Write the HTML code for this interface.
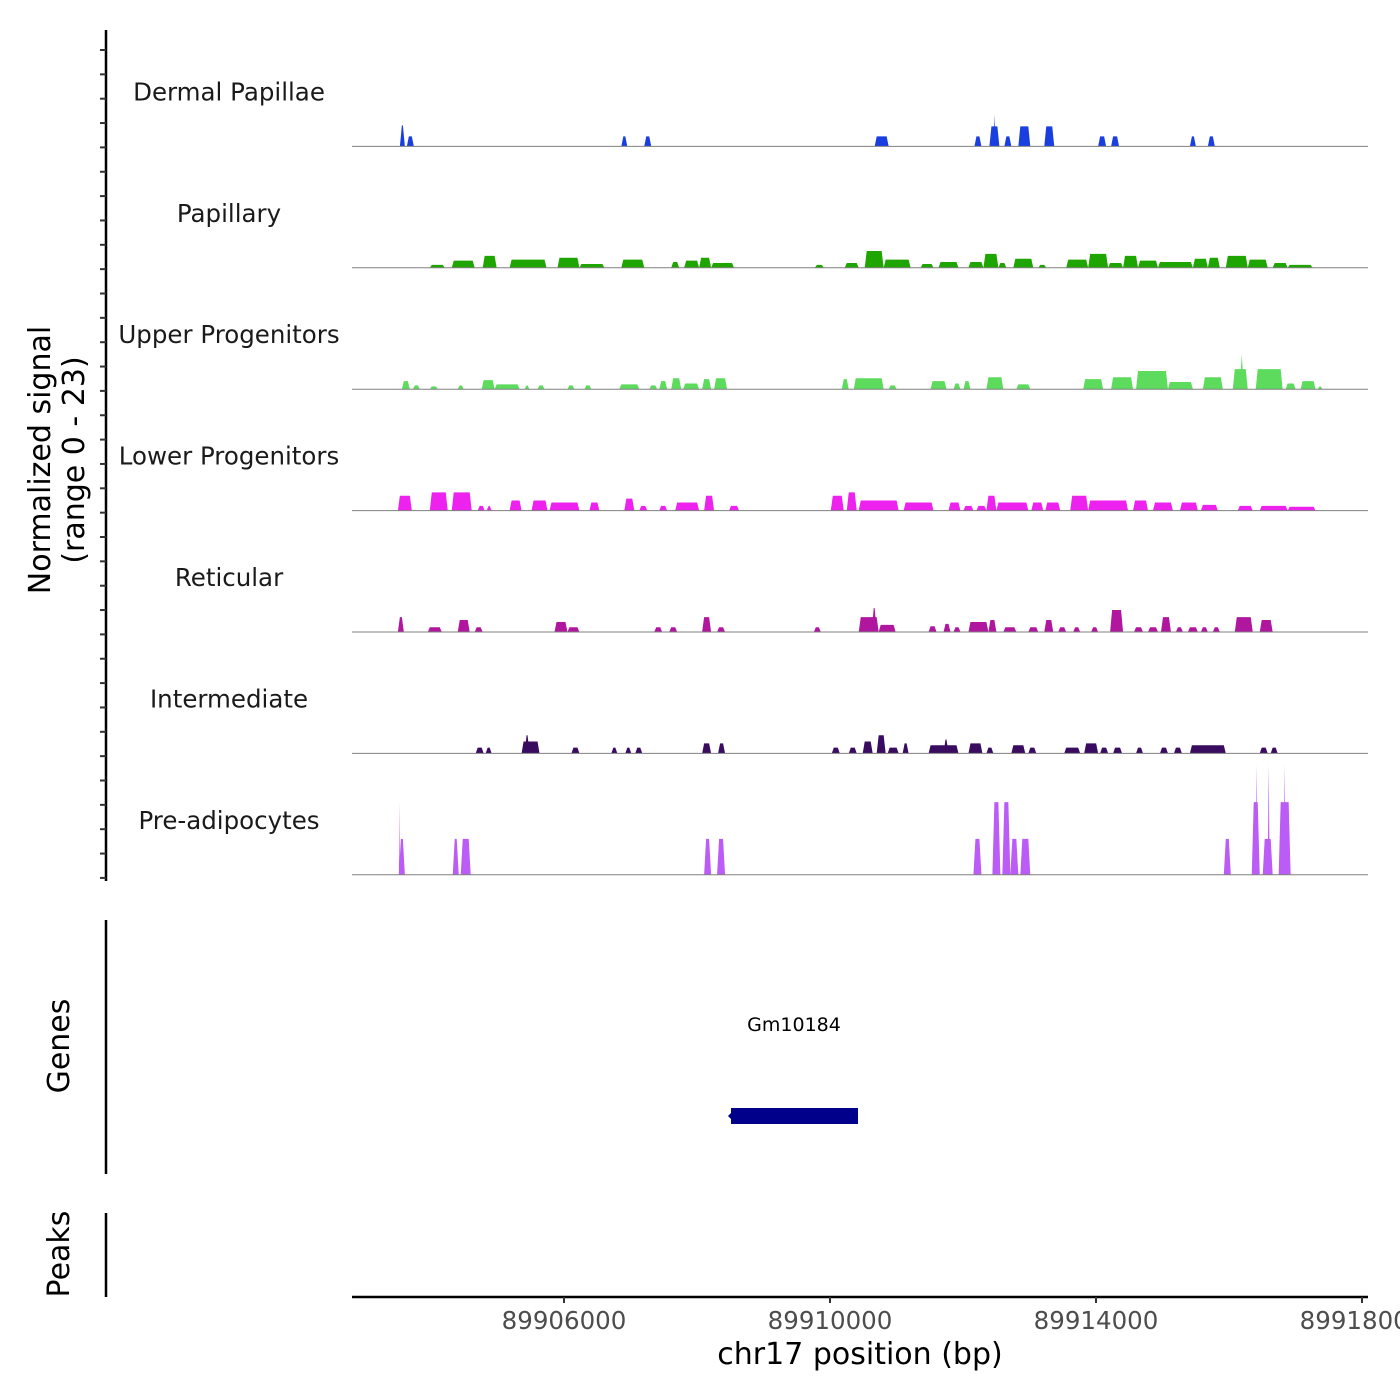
<!DOCTYPE html>
<html><head><meta charset="utf-8"><style>
html,body{margin:0;padding:0;background:#fff;}
svg{display:block;font-family:"DejaVu Sans","Liberation Sans",sans-serif;}
</style></head><body>
<svg id="chart" width="1400" height="1400" viewBox="0 0 1400 1400">
<g id="left-axes"></g>
<g id="tracks"></g>
<g id="genes">
  <text x="794" y="1031" font-size="19" text-anchor="middle" fill="#000">Gm10184</text>
  <rect x="731" y="1108" width="127" height="16" fill="#00008B"/>
  <polygon points="728,1116 733,1111 733,1121" fill="#00008B"/>
</g>
<g id="xaxis"></g>
<text x="54" y="460" font-size="30" text-anchor="middle" transform="rotate(-90 54 460)" fill="#000"><tspan x="54" dy="-4">Normalized signal</tspan><tspan x="54" dy="34">(range 0 - 23)</tspan></text>
<text x="69" y="1046" font-size="30" text-anchor="middle" transform="rotate(-90 69 1046)" fill="#000">Genes</text>
<text x="69" y="1254" font-size="30" text-anchor="middle" transform="rotate(-90 69 1254)" fill="#000">Peaks</text>
<text x="860" y="1364" font-size="30" text-anchor="middle" fill="#000">chr17 position (bp)</text>
</svg>
<script>
const regionStart = 89902812;
const trackNames = ["Dermal Papillae","Papillary","Upper Progenitors","Lower Progenitors","Reticular","Intermediate","Pre-adipocytes"];
const trackColors = ["#1a3fe0","#1fa500","#5cdb5c","#ee22ee","#b0179e","#3a0c60","#bb5cf6"];
const xTicks = [89906000, 89910000, 89914000, 89918000];
const xTickLabels = ["89906000","89910000","89914000","89918000"];
// segments: [startOffsetBp, endOffsetBp, signal]
const dermal = [[720,795,4.4],[825,930,2.1],[4050,4140,2.1],[4395,4500,2.1],[7860,8070,2.1],[9360,9465,2.1],[9585,9735,4.2],[9645,9675,6.7],[9810,9915,2.1],[10020,10200,4.2],[10410,10560,4.2],[11220,11340,2.1],[11415,11535,2.1],[12600,12690,2.1],[12870,12975,2.1]];
const papillary = [[1170,1395,0.6],[1500,1845,1.5],[1965,2175,2.5],[2370,2925,1.7],[3090,3420,2.1],[3420,3795,0.8],[4050,4395,1.7],[4800,4920,1.2],[4995,5220,1.5],[5220,5400,2.1],[5400,5745,1.0],[6960,7095,0.6],[7410,7620,1.0],[7710,7995,3.5],[7995,8400,1.7],[8550,8745,0.8],[8820,9120,1.2],[9270,9495,1.2],[9495,9720,2.9],[9720,9840,1.0],[9945,10245,1.9],[10320,10440,0.6],[10740,11070,1.7],[11070,11370,2.9],[11370,11595,1.0],[11595,11820,2.5],[11820,12120,1.5],[12120,12645,1.2],[12645,12870,1.9],[12870,13050,2.1],[13140,13470,2.5],[13470,13770,1.7],[13845,14070,1.0],[14070,14445,0.6]];
const upper = [[750,870,1.7],[915,1020,0.8],[1170,1290,0.6],[1590,1680,0.8],[1950,2145,1.9],[2145,2520,1.0],[2595,2670,0.8],[2790,2895,0.8],[3240,3345,0.8],[3495,3600,0.8],[4020,4320,1.0],[4470,4590,0.8],[4620,4740,1.7],[4800,4950,2.3],[4980,5220,1.2],[5265,5400,2.1],[5445,5640,2.3],[7365,7470,2.1],[7545,7995,2.3],[8070,8190,0.8],[8700,8940,1.7],[9045,9150,1.2],[9195,9300,1.7],[9540,9795,2.5],[9990,10200,1.0],[10995,11295,2.1],[11415,11745,2.5],[11790,12270,3.8],[12270,12645,1.5],[12795,13095,2.5],[13245,13470,4.2],[13350,13410,7.3],[13590,13995,4.2],[14040,14190,1.2],[14265,14490,1.7],[14520,14595,0.6]];
const lower = [[690,900,3.1],[1170,1440,3.8],[1500,1800,3.8],[1890,1995,1.0],[2025,2100,1.0],[2370,2550,2.1],[2700,2940,2.1],[2970,3420,1.7],[3570,3720,1.7],[4095,4245,2.5],[4320,4440,1.0],[4620,4740,1.0],[4860,5220,1.7],[5295,5445,3.1],[5670,5820,1.0],[7200,7395,3.1],[7440,7590,3.8],[7620,8220,2.1],[8295,8745,1.7],[8970,9150,1.7],[9195,9345,1.0],[9390,9540,1.0],[9540,9690,3.1],[9690,10170,1.7],[10215,10395,1.7],[10425,10650,1.7],[10800,11070,3.1],[11070,11670,2.1],[11745,11970,2.1],[12045,12345,1.7],[12450,12720,1.7],[12765,13020,1.2],[13320,13545,1.0],[13650,14070,1.0],[14070,14490,0.8]];
const reticular = [[690,780,3.1],[1140,1350,1.0],[1590,1770,2.5],[1845,1965,1.0],[3045,3240,2.1],[3240,3420,1.0],[4545,4665,1.0],[4770,4890,1.0],[5265,5400,3.1],[5490,5610,1.0],[6945,7050,1.0],[7620,7920,3.1],[7815,7890,5.0],[7920,8175,1.5],[8670,8790,1.2],[8895,9000,1.7],[9045,9150,1.0],[9270,9570,2.1],[9570,9690,2.5],[9795,9990,1.0],[10170,10320,1.0],[10410,10545,2.5],[10620,10740,1.0],[10845,10950,1.0],[11115,11220,1.0],[11400,11595,4.6],[11760,11895,1.0],[11970,12120,1.0],[12165,12315,3.1],[12390,12495,1.0],[12570,12720,1.0],[12765,12870,1.0],[12945,13050,1.0],[13275,13545,3.1],[13650,13845,2.5]];
const intermediate = [[1860,1980,1.2],[2010,2100,1.2],[2550,2820,2.5],[2595,2670,3.8],[3300,3420,1.2],[3900,3990,1.2],[4110,4200,1.2],[4260,4365,1.2],[5265,5400,2.1],[5505,5610,2.1],[7215,7335,1.2],[7470,7590,1.2],[7680,7830,2.5],[7890,8025,3.8],[8055,8220,1.2],[8280,8370,2.1],[8670,9120,1.7],[8895,8970,2.9],[9270,9480,2.1],[9540,9645,1.2],[9915,10125,1.7],[10170,10290,1.2],[10710,10950,1.2],[11010,11220,2.1],[11250,11370,1.2],[11445,11580,1.2],[11790,11895,1.2],[12150,12270,1.2],[12360,12480,1.2],[12600,13140,1.7],[13650,13770,1.2],[13815,13920,1.2]];
const preadipocytes = [[705,720,15.2],[705,795,7.5],[1515,1605,7.5],[1635,1785,7.5],[5295,5400,7.5],[5490,5610,7.5],[9345,9465,7.5],[9630,9750,15.2],[9780,9900,15.2],[9900,10020,7.5],[10050,10200,7.5],[13110,13215,7.5],[13530,13650,15.2],[13590,13620,23],[13695,13845,7.5],[13770,13800,23],[13935,14115,15.2],[14010,14040,23]];
const trackData = [dermal,papillary,upper,lower,reticular,intermediate,preadipocytes];
const yMax = 23;

const NS = "http://www.w3.org/2000/svg";
const plotLeft = 352, plotRight = 1368;
function xScale(bp){ return 564 + (bp - 89906000) * 266 / 4000; }
function xOff(off){ return xScale(regionStart + off); }
const trackTop = 30, trackH = 121.4, pxPerUnit = 110 / yMax;
function baseY(i){ return trackTop + trackH * (i + 1) - 5; }
function ySig(i, v){ return baseY(i) - v * pxPerUnit; }
function mk(tag, attrs, parent){ const e=document.createElementNS(NS,tag); for(const k in attrs) e.setAttribute(k,attrs[k]); parent.appendChild(e); return e; }

const tracksG = document.getElementById('tracks');
trackData.forEach((segs, i) => {
  const g = mk('g', {}, tracksG);
  
  
  const lbl = mk('text', {x:229, y:baseY(i)-46, 'font-size':24.5, 'text-anchor':'middle', fill:'#1a1a1a'}, g);
  lbl.textContent = trackNames[i];
  
  
  const b = baseY(i);
  segs.forEach(s => {
    const x0 = xOff(s[0]), x1 = xOff(s[1]);
    const sl = Math.min(2, (x1 - x0) / 2);
    const t = ySig(i, s[2]);
    const p = mk('polygon', {points:`${x0},${b} ${x0+sl},${t} ${x1-sl},${t} ${x1},${b}`, fill:trackColors[i]}, g);
    
    
  });
  const ln = mk('line', {x1:plotLeft, x2:plotRight, y1:b, y2:b, stroke:'#808080', 'stroke-width':1}, g);
  
  
});

const la = document.getElementById('left-axes');
const a1 = mk('line', {x1:106, x2:106, y1:30, y2:881, stroke:'#000', 'stroke-width':2.5}, la);


for (let y = 50; y <= 880; y += 24.35) {
  const t = mk('line', {x1:100, x2:106, y1:y, y2:y, stroke:'#333', 'stroke-width':2}, la);
  
  
}
const a2 = mk('line', {x1:106, x2:106, y1:920, y2:1174, stroke:'#000', 'stroke-width':2.5}, la);


const a3 = mk('line', {x1:106, x2:106, y1:1213, y2:1297, stroke:'#000', 'stroke-width':2.5}, la);



const xa = document.getElementById('xaxis');
const xl = mk('line', {x1:plotLeft, x2:plotRight, y1:1297, y2:1297, stroke:'#000', 'stroke-width':2.5}, xa);


xTicks.forEach((v, k) => {
  const x = xScale(v);
  const t = mk('line', {x1:x, x2:x, y1:1297, y2:1303, stroke:'#333', 'stroke-width':2}, xa);
  
  
  const tx = mk('text', {x:x, y:1329, 'font-size':24.5, 'text-anchor':'middle', fill:'#4d4d4d'}, xa);
  tx.textContent = xTickLabels[k];
  
  
});
</script>
</body></html>
